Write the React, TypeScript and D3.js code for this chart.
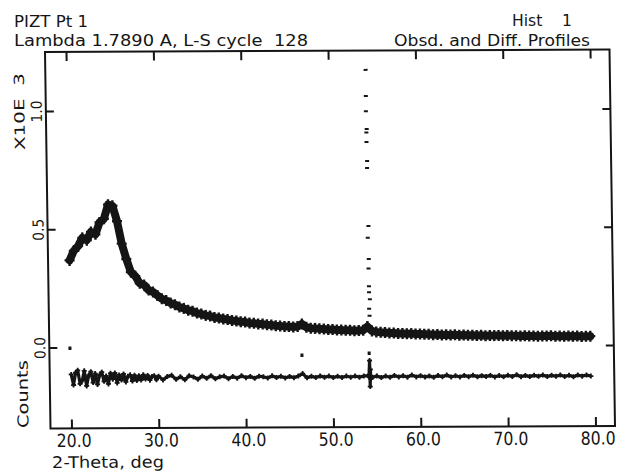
import React from 'react';
import * as d3 from 'd3';

// ---- data (counts in thousands, X10E 3) ----
const obsStart = 20.0;
const obsStep = 0.5;
const obsCounts = [
  0.37, 0.41, 0.43, 0.465, 0.455, 0.49, 0.48, 0.53, 0.545, 0.605,
  0.6, 0.535, 0.44, 0.375, 0.32, 0.302, 0.272, 0.265, 0.243, 0.235,
  0.22, 0.206, 0.199, 0.188, 0.181, 0.171, 0.165, 0.157, 0.153, 0.145,
  0.141, 0.135, 0.132, 0.126, 0.124, 0.119, 0.117, 0.113, 0.111, 0.107,
  0.106, 0.102, 0.101, 0.098, 0.097, 0.094, 0.093, 0.09, 0.089, 0.087,
  0.086, 0.084, 0.086, 0.097, 0.083, 0.079, 0.078, 0.076, 0.075, 0.073,
  0.073, 0.071, 0.071, 0.069, 0.069, 0.067, 0.068, 0.069, 0.085, 0.066,
  0.062, 0.06, 0.059, 0.057, 0.057, 0.055, 0.055, 0.054, 0.054, 0.052,
  0.052, 0.051, 0.051, 0.049, 0.05, 0.048, 0.049, 0.047, 0.048, 0.046,
  0.047, 0.046, 0.046, 0.045, 0.046, 0.044, 0.045, 0.044, 0.044, 0.043,
  0.044, 0.043, 0.043, 0.042, 0.043, 0.042, 0.042, 0.041, 0.042, 0.041,
  0.042, 0.04, 0.041, 0.04, 0.041, 0.04, 0.041, 0.039, 0.04, 0.04,
];
const peakTwoTheta = [54.22, 54.2, 54.18, 54.24, 54.2, 54.2, 54.24, 54.22, 54.28, 54.18, 54.26, 54.22, 54.24, 54.24, 54.32, 54.22, 54.26];
const peakCounts = [1.17, 1.06, 0.995, 0.92, 0.905, 0.865, 0.785, 0.755, 0.51, 0.46, 0.37, 0.33, 0.255, 0.23, 0.2, 0.16, 0.13];

const diffOffset = -0.127;
// 20.0 – 29.75 deg, step 0.25
const diffLowStart = 20.0;
const diffLowStep = 0.25;
const diffLow = [
  0.015, -0.03, 0.022, 0.032, -0.025, -0.012, 0.03, -0.034, 0.01, 0.026,
  -0.02, 0.018, -0.028, 0.012, 0.024, -0.015, 0.008, -0.026, 0.019, -0.006,
  0.02, -0.022, 0.012, -0.01, 0.016, -0.018, 0.006, 0.012, -0.014, 0.01,
  -0.012, 0.008, -0.01, 0.012, -0.006, 0.009, -0.011, 0.005, 0.008, -0.009,
];
// 30.0 – 79.5 deg, step 0.5
const diffHighStart = 30.0;
const diffHighStep = 0.5;
const diffHigh = [
  0.006, -0.01, 0.004, 0.009, -0.008, 0.003, -0.01, 0.007, 0.002, -0.008,
  0.006, -0.004, 0.007, -0.006, 0.002, 0.005, -0.006, 0.003, -0.004, 0.006,
  -0.002, 0.003, -0.005, 0.004, 0.001, -0.004, 0.005, -0.002, 0.003, -0.004,
  0.002, -0.003, 0.004, 0.014, -0.004, 0.003, -0.003, 0.004, -0.002, 0.003,
  -0.003, 0.002, -0.003, 0.003, -0.002, 0.003, -0.002, 0.003, 0.004, -0.003,
  0.003, -0.004, 0.002, -0.003, 0.004, -0.002, 0.003, -0.003, 0.006, -0.002,
  0.003, -0.003, 0.002, -0.004, 0.003, -0.002, 0.005, -0.003, 0.002, -0.003,
  0.003, -0.002, 0.004, -0.003, 0.002, -0.002, 0.003, -0.004, 0.002, -0.003,
  0.003, -0.002, 0.005, -0.003, 0.002, -0.003, 0.003, -0.002, 0.004, -0.003,
  0.002, -0.002, 0.003, -0.003, 0.002, -0.004, 0.003, -0.002, 0.003, -0.002,
];
const diffPeakTwoTheta = [54.1, 54.18, 54.22, 54.26, 54.3];
const diffPeakResidual = [0.0, 0.068, -0.042, 0.03, -0.01];

const reflTwoTheta = [19.9, 46.45, 54.15];
const reflLevel = [0.0, -0.034, -0.027];

const xTicks = [20, 30, 40, 50, 60, 70, 80];
const xTickLabels = ['20.0', '30.0', '40.0', '50.0', '60.0', '70.0', '80.0'];
const yTicks = [0, 0.5, 1.0];
const yTickLabels = ['0.0', '0.5', '1.0'];

type DP = { t: number; r: number };

export default function App() {
  const W = 564.5;
  const H = 376.5;
  const x = d3.scaleLinear().domain([20, 80]).range([21.5, 545.5]);
  const y = d3.scaleLinear().domain([0, 1]).range([296, 59.5]);

  const obs = obsCounts.map((c, i) => ({ t: obsStart + i * obsStep, c }));
  const obsLine = d3
    .line<{ t: number; c: number }>()
    .x((d) => x(d.t))
    .y((d) => y(d.c));

  const diffPts: DP[] = diffLow
    .map((r, i) => ({ t: diffLowStart + i * diffLowStep, r }))
    .concat(diffHigh.map((r, i) => ({ t: diffHighStart + i * diffHighStep, r })))
    .concat(diffPeakTwoTheta.map((t, i) => ({ t, r: diffPeakResidual[i] })))
    .sort((a, b) => a.t - b.t);
  const diffLine = d3
    .line<DP>()
    .x((d) => x(d.t))
    .y((d) => y(d.r + diffOffset));

  const ink = '#151515';
  const font = 'DejaVu Sans, Liberation Sans, sans-serif';

  return (
    <svg
      width={627}
      height={474}
      viewBox="0 0 627 474"
      style={{ position: 'fixed', left: 0, top: 0, background: '#fff' }}
    >
      <rect x={0} y={0} width={627} height={474} fill="#fff" />
      {/* titles */}
      <g fill={ink} fontFamily={font} fontSize={16}>
        <text x={14} y={27} textLength={74} lengthAdjust="spacingAndGlyphs">PIZT Pt 1</text>
        <text x={14} y={46} textLength={294} lengthAdjust="spacingAndGlyphs" xmlSpace="preserve">
          Lambda 1.7890 A, L-S cycle  128
        </text>
        <text x={512} y={26} textLength={60} lengthAdjust="spacingAndGlyphs" xmlSpace="preserve">
          Hist    1
        </text>
        <text x={394} y={46} textLength={196} lengthAdjust="spacingAndGlyphs">
          Obsd. and Diff. Profiles
        </text>
      </g>

      <g transform="matrix(1,-0.00443,0.0146,1,45,52)">
        {/* frame */}
        <rect x={0} y={0} width={W} height={H} fill="none" stroke={ink} strokeWidth={2} />
        {xTicks.map((t) => (
          <g key={'xt' + t}>
            <line x1={x(t)} x2={x(t)} y1={H} y2={H - 9} stroke={ink} strokeWidth={2} />
            <line x1={x(t)} x2={x(t)} y1={0} y2={9} stroke={ink} strokeWidth={2} />
          </g>
        ))}
        {yTicks.map((v) => (
          <g key={'yt' + v}>
            <line x1={0} x2={8} y1={y(v)} y2={y(v)} stroke={ink} strokeWidth={2} />
            <line x1={W} x2={W - 8} y1={y(v)} y2={y(v)} stroke={ink} strokeWidth={2} />
          </g>
        ))}
        {/* tick labels */}
        <g fill={ink} fontFamily={font}>
          {xTicks.map((t, i) => (
            <text key={'xl' + t} x={x(t) + 2} y={H + 18.5} fontSize={18} textAnchor="middle" textLength={35} lengthAdjust="spacingAndGlyphs">
              {xTickLabels[i]}
            </text>
          ))}
          {yTicks.map((v, i) => (
            <text
              key={'yl' + v}
              transform={`translate(${-4},${y(v)}) rotate(-90)`}
              fontSize={15}
              textAnchor="middle"
              textLength={22}
              lengthAdjust="spacingAndGlyphs"
            >
              {yTickLabels[i]}
            </text>
          ))}
          <text
            transform={`translate(${-21.5},${y(1.0)}) rotate(-90)`}
            fontSize={14}
            textAnchor="middle"
            textLength={77}
            lengthAdjust="spacingAndGlyphs"
            xmlSpace="preserve"
          >
            X10E  3
          </text>
          <text
            transform={`translate(${-22},342) rotate(-90)`}
            fontSize={15}
            textAnchor="middle"
            textLength={68}
            lengthAdjust="spacingAndGlyphs"
          >
            Counts
          </text>
          <text x={1} y={H + 39.5} fontSize={16} textLength={112} lengthAdjust="spacingAndGlyphs">
            2-Theta, deg
          </text>
        </g>

        {/* observed band: dense points drawn as a thick trace plus + marks */}
        <path d={obsLine(obs) || ''} fill="none" stroke={ink} strokeWidth={8} strokeLinejoin="round" strokeLinecap="round" />
        <g stroke={ink} strokeWidth={2.4} fill="none">
          {obs.map((d, i) => (
            <path key={'o' + i} transform={`translate(${x(d.t)},${y(d.c)})`} d="M-5,0H5M0,-5.5V5.5" />
          ))}
        </g>
        {/* sharp peak observations */}
        <g fill={ink}>
          {peakTwoTheta.map((t, i) => (
            <rect key={'p' + i} x={x(t) - 2} y={y(peakCounts[i]) - 1} width={4} height={2} />
          ))}
          {reflTwoTheta.map((t, i) => (
            <rect key={'r' + i} x={x(t) - 1.5} y={y(reflLevel[i]) - 1.5} width={3} height={3.5} />
          ))}
        </g>
        {/* difference curve */}
        <path d={diffLine(diffPts) || ''} fill="none" stroke={ink} strokeWidth={3.2} strokeLinejoin="round" />
        <g stroke={ink} strokeWidth={1.8} fill="none">
          {diffPts.map((d, i) => (
            <path key={'d' + i} transform={`translate(${x(d.t)},${y(d.r + diffOffset)})`} d="M-2.5,0H2.5M0,-2.5V2.5" />
          ))}
        </g>
      </g>
    </svg>
  );
}
